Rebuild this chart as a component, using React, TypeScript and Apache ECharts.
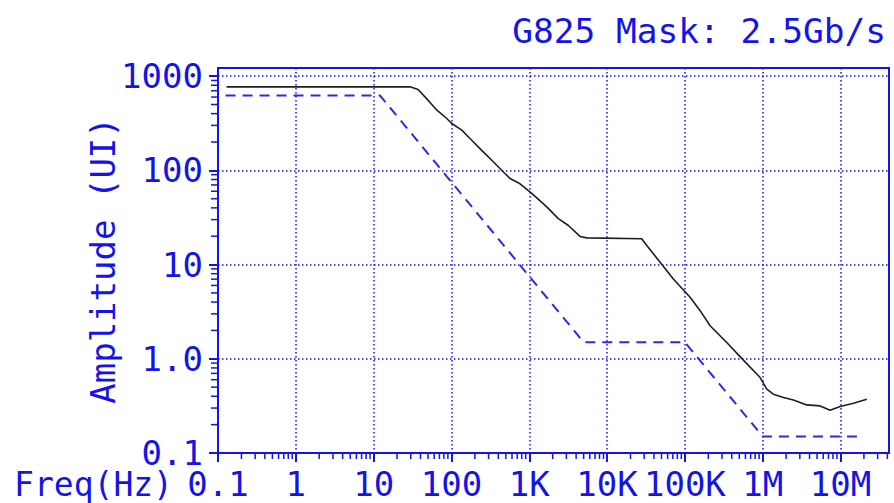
import React, { useEffect, useRef } from "react";
import * as echarts from "echarts";

// ---- data ----
const maskFreq = [0.125, 12.1, 5000, 100000, 1000000, 20000000];
const maskAmp = [622, 622, 1.5, 1.5, 0.15, 0.15];

const measFreq = [
  0.129, 29.4, 37.2, 50, 65, 87, 101, 136, 173, 245, 330, 465, 566, 762,
  1077, 1679, 2366, 3184, 4500, 5480, 27900, 32400, 48000, 71100, 116700,
  157000, 211000, 345000, 565000, 927000, 1130000, 1370000, 1850000, 2480000,
  3690000, 5470000, 7350000, 9880000, 14700000, 21800000,
];
const measAmp = [
  770, 770, 722, 556, 435, 355, 314, 267, 218, 163, 128, 96, 82, 72, 57, 41,
  30.7, 26, 19.9, 19.2, 18.8, 15.9, 10.6, 7.04, 4.49, 3.24, 2.24, 1.49, 0.968,
  0.632, 0.476, 0.421, 0.388, 0.366, 0.324, 0.316, 0.284, 0.311, 0.338, 0.372,
];

const xTickLabels = ["0.1", "1", "10", "100", "1K", "10K", "100K", "1M", "10M"];
const yTickLabels = ["0.1", "1.0", "10", "100", "1000"];
const xDecades = [0.1, 1, 10, 100, 1000, 10000, 100000, 1000000, 10000000];
const yDecades = [0.1, 1, 10, 100];
const minorMultipliers = [2, 3, 4, 5, 6, 7, 8, 9];

const X_MIN = 0.1;
const X_MAX = 4.2e7;
const Y_MIN = 0.1;
const Y_MAX = 1220;

const TITLE = "G825 Mask: 2.5Gb/s";
const X_NAME = "Freq(Hz)";
const Y_NAME = "Amplitude (UI)";

const BLUE = "#1414e6";
const FONT = "DejaVu Sans Mono";
const FS = 34;

export default function App() {
  const ref = useRef<HTMLDivElement>(null);

  useEffect(() => {
    if (!ref.current) return;
    const chart = echarts.init(ref.current, undefined, { renderer: "svg" });

    const maskData = maskFreq.map((f, i) => [f, maskAmp[i]]);
    const measData = measFreq.map((f, i) => [f, measAmp[i]]);
    const xMinor: number[][] = [];
    xDecades.forEach((d) =>
      minorMultipliers.forEach((m) => {
        if (d * m <= X_MAX) xMinor.push([d * m, Y_MIN]);
      })
    );
    const yMinor: number[][] = [];
    yDecades.forEach((d) =>
      minorMultipliers.forEach((m) => {
        if (d * m <= Y_MAX) yMinor.push([X_MIN, d * m]);
      })
    );

    const labelStyle = {
      color: BLUE,
      fontFamily: FONT,
      fontSize: FS,
      fontWeight: "normal" as const,
    };

    const xFmt = (v: number) => {
      const e = Math.log10(v);
      const r = Math.round(e);
      if (Math.abs(e - r) > 1e-6) return "";
      return xTickLabels[r + 1] ?? "";
    };
    const yFmt = (v: number) => {
      const e = Math.log10(v);
      const r = Math.round(e);
      if (Math.abs(e - r) > 1e-6) return "";
      return yTickLabels[r + 1] ?? "";
    };

    chart.setOption({
      animation: false,
      backgroundColor: "#ffffff",
      title: {
        text: TITLE,
        right: 3,
        top: 8,
        textStyle: { ...labelStyle, fontSize: 34.5 },
      },
      grid: {
        left: 218,
        right: 5,
        top: 68,
        bottom: 50,
        show: true,
        borderColor: BLUE,
        borderWidth: 2,
        backgroundColor: "transparent",
        outerBoundsMode: "none",
        containLabel: false,
      },
      xAxis: {
        type: "log",
        logBase: 10,
        min: X_MIN,
        max: X_MAX,
        name: X_NAME,
        nameLocation: "start",
        nameGap: 45,
        nameMoveOverlap: false,
        nameTextStyle: {
          ...labelStyle,
          fontSize: 33,
          verticalAlign: "top",
          padding: [15, 0, 0, 0],
        },
        axisLine: { show: true, lineStyle: { color: BLUE, width: 2 } },
        axisTick: { show: true, inside: false, length: 9, lineStyle: { color: BLUE, width: 2 } },
        axisLabel: { ...labelStyle, margin: 14, formatter: xFmt, showMaxLabel: false },
        splitLine: { show: true, lineStyle: { color: BLUE, width: 1.5, type: [1.5, 2.5] } },
      },
      yAxis: {
        type: "log",
        logBase: 10,
        min: Y_MIN,
        max: Y_MAX,
        name: Y_NAME,
        nameLocation: "middle",
        nameGap: 98,
        nameRotate: 90,
        nameMoveOverlap: false,
        nameTextStyle: { ...labelStyle },
        axisLine: { show: true, lineStyle: { color: BLUE, width: 2 } },
        axisTick: { show: true, inside: false, length: 9, lineStyle: { color: BLUE, width: 2 } },
        axisLabel: { ...labelStyle, margin: 15, formatter: yFmt, showMaxLabel: false },
        splitLine: { show: true, lineStyle: { color: BLUE, width: 1.5, type: [1.5, 2.5] } },
      },
      series: [
        {
          type: "line",
          name: "Mask",
          data: maskData,
          symbol: "none",
          lineStyle: { color: "#2b2be0", width: 2, type: [10, 7] },
          z: 3,
        },
        {
          type: "line",
          name: "Measured",
          data: measData,
          symbol: "none",
          lineStyle: { color: "#1e1e1e", width: 1.6 },
          z: 4,
        },
        {
          type: "custom",
          name: "xMinorTicks",
          data: xMinor,
          silent: true,
          clip: false,
          renderItem: (_p: any, api: any) => {
            const pt = api.coord([api.value(0), api.value(1)]);
            return {
              type: "line",
              shape: { x1: pt[0], y1: pt[1], x2: pt[0], y2: pt[1] + 6 },
              style: { stroke: BLUE, lineWidth: 1.5 },
            };
          },
        },
        {
          type: "custom",
          name: "yMinorTicks",
          data: yMinor,
          silent: true,
          clip: false,
          renderItem: (_p: any, api: any) => {
            const pt = api.coord([api.value(0), api.value(1)]);
            return {
              type: "line",
              shape: { x1: pt[0] - 7, y1: pt[1], x2: pt[0], y2: pt[1] },
              style: { stroke: BLUE, lineWidth: 1.5 },
            };
          },
        },
      ],
    });

    return () => chart.dispose();
  }, []);

  return (
    <div
      ref={ref}
      style={{ position: "fixed", left: 0, top: 0, width: 894, height: 503 }}
    />
  );
}
